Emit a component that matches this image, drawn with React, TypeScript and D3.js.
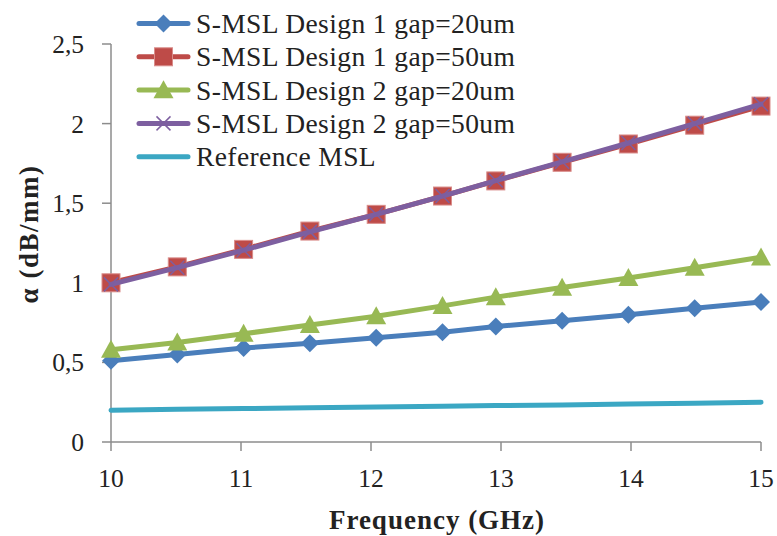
import React from "react";
import * as d3 from "d3";

const freqs = [10, 10.51, 11.02, 11.53, 12.04, 12.55, 12.96, 13.47, 13.98, 14.49, 15];
const d1g20 = [0.51, 0.55, 0.59, 0.62, 0.655, 0.69, 0.725, 0.762, 0.8, 0.84, 0.88];
const d1g50 = [1.0, 1.1, 1.21, 1.325, 1.43, 1.545, 1.64, 1.757, 1.872, 1.99, 2.11];
const d2g20 = [0.58, 0.625, 0.68, 0.735, 0.79, 0.855, 0.91, 0.97, 1.03, 1.095, 1.16];
const d2g50 = [0.99, 1.095, 1.205, 1.32, 1.43, 1.545, 1.642, 1.76, 1.878, 2.0, 2.122];
const refMsl = [0.2, 0.205, 0.21, 0.215, 0.22, 0.225, 0.229, 0.233, 0.238, 0.244, 0.25];

const seriesNames = [
  "S-MSL Design 1 gap=20um",
  "S-MSL Design 1 gap=50um",
  "S-MSL Design 2 gap=20um",
  "S-MSL Design 2 gap=50um",
  "Reference MSL",
];
const xTicks = [10, 11, 12, 13, 14, 15];
const yTicks = [0, 0.5, 1, 1.5, 2, 2.5];

const seriesValues = [d1g20, d1g50, d2g20, d2g50, refMsl];
const colors = ["#4A7EBB", "#BE4B48", "#98B954", "#7D5FA0", "#3BA7C3"];
const markers = ["diamond", "square", "triangle", "x", "none"];

const FONT = "'Liberation Serif', serif";

function Marker({ type, x, y, color }: { type: string; x: number; y: number; color: string }) {
  if (type === "diamond") {
    const r = 9;
    return <path d={`M${x},${y - r}L${x + r},${y}L${x},${y + r}L${x - r},${y}Z`} fill={color} />;
  }
  if (type === "square") {
    const r = 9;
    return <rect x={x - r} y={y - r} width={2 * r} height={2 * r} fill={color} stroke="#D98C8A" strokeWidth={1} />;
  }
  if (type === "triangle") {
    const w = 10, h = 18;
    return (
      <path d={`M${x},${y - h * 0.55}L${x + w},${y + h * 0.45}L${x - w},${y + h * 0.45}Z`} fill={color} />
    );
  }
  if (type === "x") {
    const r = 7;
    return (
      <g stroke={color} strokeWidth={1.5}>
        <line x1={x - r} y1={y - r} x2={x + r} y2={y + r} />
        <line x1={x - r} y1={y + r} x2={x + r} y2={y - r} />
      </g>
    );
  }
  return null;
}

export default function App() {
  const x = d3.scaleLinear().domain([10, 15]).range([111, 761]);
  const y = d3.scaleLinear().domain([0, 2.5]).range([442, 44]);
  const line = d3
    .line<[number, number]>()
    .x((d) => x(d[0]))
    .y((d) => y(d[1]));
  const axisColor = "#8C8C8C";

  return (
    <svg
      width={777}
      height={536}
      style={{ position: "absolute", left: 0, top: 0, background: "#fff" }}
      fontFamily={FONT}
    >
      <rect width={777} height={536} fill="#fff" />
      {/* axes */}
      <line x1={x(10)} y1={y(0)} x2={x(15)} y2={y(0)} stroke={axisColor} strokeWidth={1.5} />
      <line x1={x(10)} y1={y(0)} x2={x(10)} y2={y(2.5)} stroke={axisColor} strokeWidth={1.5} />
      {yTicks.map((t) => (
        <g key={"y" + t}>
          <line x1={x(10) - 9} x2={x(10)} y1={y(t)} y2={y(t)} stroke={axisColor} strokeWidth={1.5} />
          <text x={84} y={y(t)} dy="0.35em" textAnchor="end" fontSize={25.5} fill="#222">
            {String(t).replace(".", ",")}
          </text>
        </g>
      ))}
      {xTicks.map((t) => (
        <g key={"x" + t}>
          <line x1={x(t)} x2={x(t)} y1={y(0)} y2={y(0) + 9} stroke={axisColor} strokeWidth={1.5} />
          <text x={x(t)} y={478} dy="0.35em" textAnchor="middle" fontSize={25.5} fill="#222">
            {t}
          </text>
        </g>
      ))}
      <text x={437} y={520} dy="0.35em" textAnchor="middle" fontSize={27} fontWeight="bold" letterSpacing={1} fill="#222">
        Frequency (GHz)
      </text>
      <text
        transform={`translate(29,234) rotate(-90)`}
        dy="0.35em"
        textAnchor="middle"
        fontSize={27}
        fontWeight="bold"
        letterSpacing={1.5}
        fill="#222"
      >
        α (dB/mm)
      </text>
      {/* series */}
      {seriesValues.map((vals, i) => {
        const pts = freqs.map((f, j) => [f, vals[j]] as [number, number]);
        return (
          <g key={"s" + i}>
            <path d={line(pts) || ""} fill="none" stroke={colors[i]} strokeWidth={5} strokeLinejoin="round" strokeLinecap="round" />
            {pts.map((p, j) => (
              <Marker key={j} type={markers[i]} x={x(p[0])} y={y(p[1])} color={colors[i]} />
            ))}
          </g>
        );
      })}
      {/* legend */}
      {seriesNames.map((name, i) => {
        const ly = 23.5 + i * 33.3;
        return (
          <g key={"l" + i}>
            <line x1={139} x2={188} y1={ly} y2={ly} stroke={colors[i]} strokeWidth={5} strokeLinecap="round" />
            <Marker type={markers[i]} x={163.5} y={ly} color={colors[i]} />
            <text x={196} y={ly} dy="0.35em" fontSize={27.5} letterSpacing={0.4} fill="#222">
              {name}
            </text>
          </g>
        );
      })}
    </svg>
  );
}
